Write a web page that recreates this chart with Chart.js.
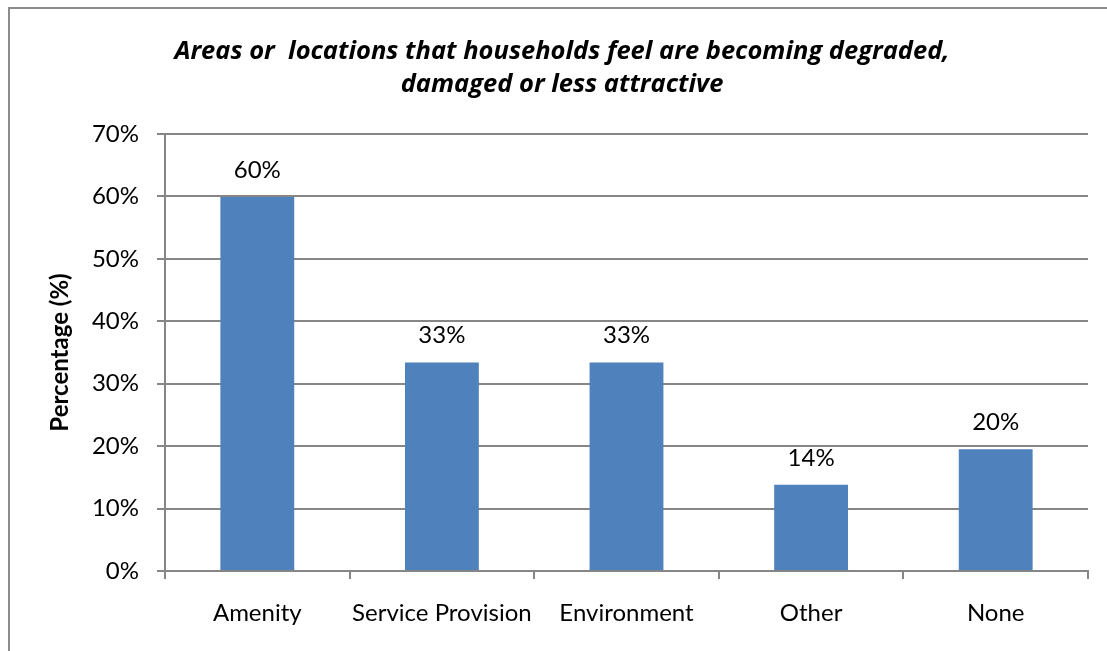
<!DOCTYPE html>
<html>
<head>
<meta charset="utf-8">
<script src="https://cdn.jsdelivr.net/npm/chart.js@4/dist/chart.umd.min.js"></script>
<style>
  html, body { margin: 0; padding: 0; background: #fff; overflow: hidden; }
  #wrap { position: relative; width: 1107px; height: 651px; }
  #frame { position: absolute; left: 8px; top: 7px; width: 1120px; height: 700px;
           border: 2px solid #8c8c8c; box-sizing: border-box; }
  canvas { position: absolute; left: 0; top: 0; }
</style>
</head>
<body>
<div id="wrap">
  <div id="frame"></div>
  <canvas id="c" width="1107" height="651"></canvas>
</div>
<script>
// Survey results: share of households naming each area type
const categories = ['Amenity', 'Service Provision', 'Environment', 'Other', 'None'];
const percentages = [59.9, 33.4, 33.4, 13.8, 19.5];
const yTicks = [0, 10, 20, 30, 40, 50, 60, 70];
const titleLines = ['Areas or  locations that households feel are becoming degraded,', 'damaged or less attractive'];
const yAxisTitle = 'Percentage (%)';

const FONT = 'Lato, "Open Sans", sans-serif';
const TITLE_FONT = '"Open Sans", Lato, sans-serif';
const GRID = '#868686';

// Writes the rounded value above each bar
const valueLabels = {
  id: 'valueLabels',
  afterDatasetsDraw(chart) {
    const ctx = chart.ctx;
    const meta = chart.getDatasetMeta(0);
    ctx.save();
    ctx.font = '24px ' + FONT;
    ctx.fillStyle = '#000';
    ctx.textAlign = 'center';
    ctx.textBaseline = 'middle';
    meta.data.forEach((bar, i) => {
      ctx.fillText(Math.round(percentages[i]) + '%', bar.x, bar.y - 27);
    });
    ctx.restore();
  }
};

new Chart(document.getElementById('c'), {
  type: 'bar',
  data: {
    labels: categories,
    datasets: [{
      data: percentages,
      backgroundColor: '#4F81BD',
      borderWidth: 0,
      barPercentage: 0.4,
      categoryPercentage: 1.0
    }]
  },
  options: {
    responsive: false,
    animation: false,
    devicePixelRatio: 1,
    layout: { padding: { left: 36, right: 19, top: 0, bottom: 0 } },
    plugins: {
      legend: { display: false },
      tooltip: { enabled: false },
      title: {
        display: true,
        text: titleLines,
        color: '#000',
        font: { family: TITLE_FONT, size: 25.5, weight: 'bold', style: 'italic', lineHeight: 1.294 },
        padding: { top: 35, bottom: 33 }
      }
    },
    scales: {
      x: {
        grid: { display: true, drawOnChartArea: false, drawTicks: true, tickLength: 8, color: GRID, lineWidth: 2, offset: true },
        border: { display: true, color: GRID, width: 2 },
        ticks: { color: '#000', font: { family: FONT, size: 24 }, padding: 20, maxRotation: 0 },
        afterFit(scale) { scale.height = 80; }
      },
      y: {
        min: 0,
        max: 70,
        afterBuildTicks(scale) { scale.ticks = yTicks.map(v => ({ value: v })); },
        grid: { color: GRID, lineWidth: 2, tickLength: 8 },
        border: { display: true, color: GRID, width: 2 },
        ticks: { color: '#000', font: { family: FONT, size: 24 }, padding: 18, callback: v => v + '%' },
        title: {
          display: true,
          text: yAxisTitle,
          color: '#000',
          font: { family: FONT, size: 24, weight: 'bold' },
          padding: { top: 10, bottom: 0 }
        },
        afterFit(scale) { scale.width = 129; }
      }
    }
  },
  plugins: [valueLabels]
});
</script>
</body>
</html>
